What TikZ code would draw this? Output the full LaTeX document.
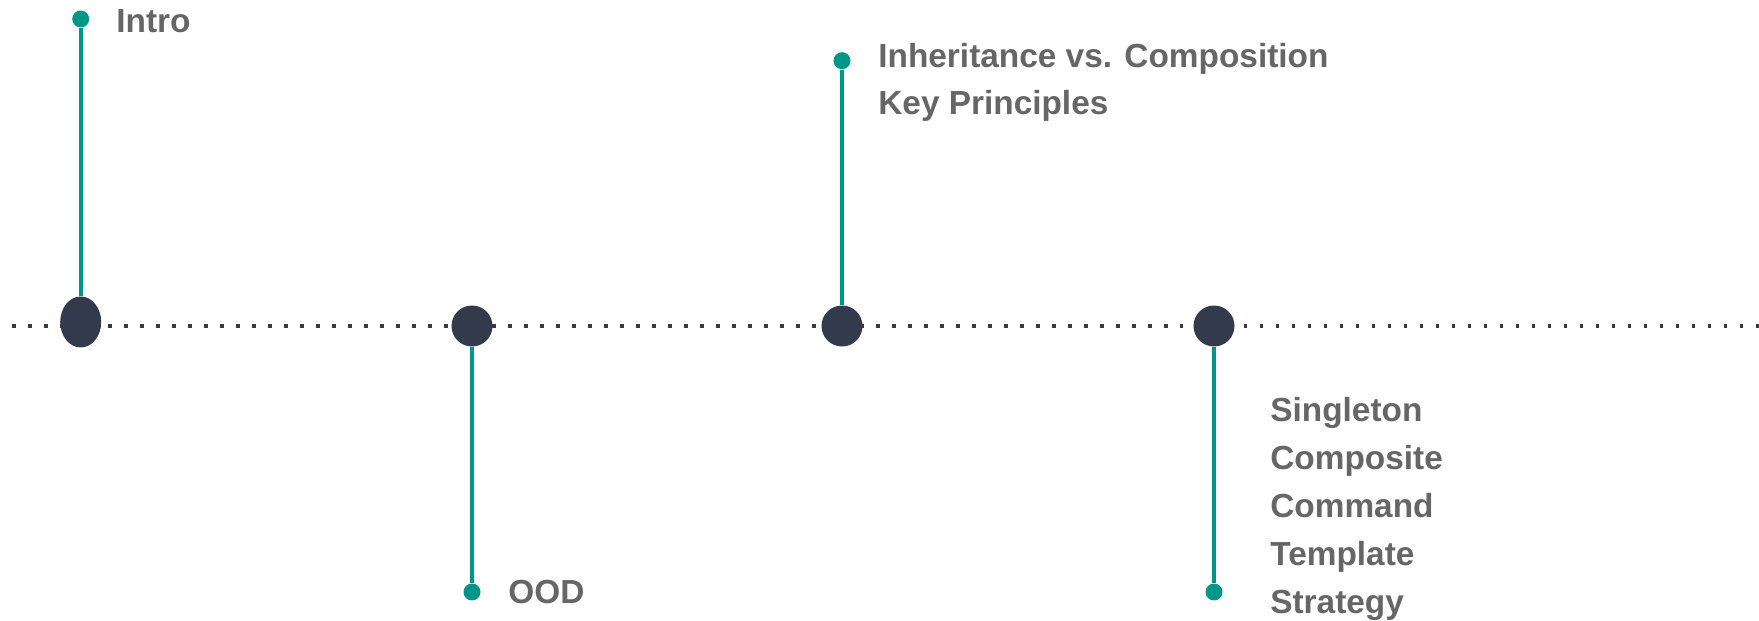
\documentclass[tikz,border=0pt]{standalone}
\usepackage{fontspec}
\setmainfont{Liberation Sans}
\usepackage{xcolor}
\usetikzlibrary{shapes.geometric}

\definecolor{stemgreen}{HTML}{009688}
\definecolor{navy}{HTML}{323A4C}
\definecolor{labelgray}{HTML}{666666}

\begin{document}
\begin{tikzpicture}[x=0.02cm, y=-0.02cm,
    milestone/.style={fill=navy, circle, minimum size=0.82cm, inner sep=0pt},
    tip/.style={fill=stemgreen, circle, minimum size=0.34cm, inner sep=0pt},
    topic/.style={text=labelgray, font=\bfseries\fontsize{19}{27.3}\selectfont, anchor=base west, inner sep=0pt, align=left},
    stem/.style={draw=stemgreen, line width=0.08cm}]
    \useasboundingbox (0,0) rectangle (1759,621);

    % Timeline
    \coordinate (lineL) at (12,326);
    \coordinate (lineR) at (1759,326);
    \draw[navy, line width=0.075cm, dash pattern=on 0.075cm off 0.245cm] (lineL) -- (lineR);

    % Tips
    \node[tip] (tIntro) at (80.7,19) {};
    \node[tip] (tOOD) at (472,592) {};
    \node[tip] (tInh) at (842,60.7) {};
    \node[tip] (tPat) at (1214,592) {};

    % Milestones
    \node[milestone, ellipse, minimum width=0.82cm, minimum height=1.02cm] (m1) at (80.7,322) {};
    \node[milestone] (m2) at (472,326) {};
    \node[milestone] (m3) at (842,326) {};
    \node[milestone] (m4) at (1214,326) {};

    % Stems
    \draw[stem] (tIntro) -- (m1);
    \draw[stem] (m2) -- (tOOD);
    \draw[stem] (tInh) -- (m3);
    \draw[stem] (m4) -- (tPat);

    % Labels (base = last line)
    \node[topic] (lIntro) at (116,33) {Intro};
    \node[topic] (lOOD) at (508,603) {OOD};
    \node[topic] (lInh) at (878,115) {Inheritance vs. Composition\\Key Principles};
    \node[topic] (lPat) at (1270,613) {Singleton\\Composite\\Command\\Template\\Strategy};
\end{tikzpicture}
\end{document}
